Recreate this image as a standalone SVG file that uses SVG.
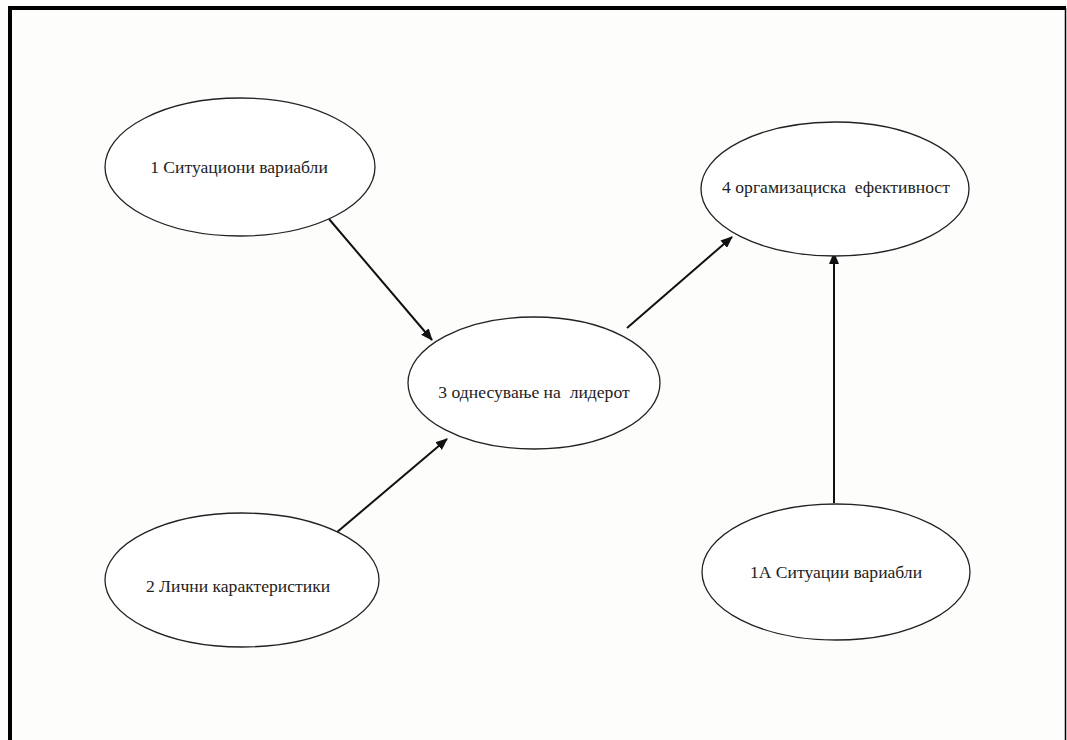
<svg xmlns="http://www.w3.org/2000/svg" width="1067" height="740" viewBox="0 0 1067 740">
  <style>
    .node ellipse { fill: #ffffff; stroke: #222222; stroke-width: 1.3; }
    .node text { font-family: "Liberation Serif", "Times New Roman", serif; font-size: 17.6px; fill: #222222; white-space: pre; }
    .edge { stroke: #111111; stroke-width: 2; fill: none; marker-end: url(#arrow); }
  </style>
  <defs>
    <marker id="arrow" markerWidth="12" markerHeight="10" refX="11" refY="5" orient="auto" markerUnits="userSpaceOnUse">
      <path d="M0,0 L12,5 L0,10 Z" fill="#111111"/>
    </marker>
  </defs>

  <!-- page background and frame -->
  <rect x="0" y="0" width="1067" height="740" fill="#fdfdfc"/>
  <path d="M10,740 V8 H1066" fill="none" stroke="#000000" stroke-width="4"/>
  <line x1="1065.5" y1="8" x2="1065.5" y2="740" stroke="#000000" stroke-width="1.5"/>

  <!-- connectors -->
  <g id="connectors">
    <line class="edge" x1="329" y1="219" x2="432" y2="340"/>
    <line class="edge" x1="336" y1="533" x2="447" y2="439"/>
    <line class="edge" x1="627" y1="328" x2="732" y2="237"/>
    <line class="edge" x1="834" y1="503" x2="834" y2="253"/>
  </g>

  <!-- nodes -->
  <g id="node1" class="node">
    <ellipse cx="240" cy="167" rx="135" ry="69"/>
    <text x="239" y="173" text-anchor="middle">1 Ситуациони вариабли</text>
  </g>
  <g id="node2" class="node">
    <ellipse cx="242" cy="580" rx="137" ry="67"/>
    <text x="238" y="592" text-anchor="middle">2 Лични карактеристики</text>
  </g>
  <g id="node3" class="node">
    <ellipse cx="534" cy="383" rx="126" ry="66"/>
    <text x="534" y="398" text-anchor="middle" xml:space="preserve">3 однесување на  лидерот</text>
  </g>
  <g id="node4" class="node">
    <ellipse cx="835" cy="189" rx="134" ry="67"/>
    <text x="836" y="193" text-anchor="middle" xml:space="preserve">4 оргамизациска  ефективност</text>
  </g>
  <g id="node1a" class="node">
    <ellipse cx="836" cy="572" rx="134" ry="68"/>
    <text x="836" y="578" text-anchor="middle">1А Ситуации вариабли</text>
  </g>
</svg>
